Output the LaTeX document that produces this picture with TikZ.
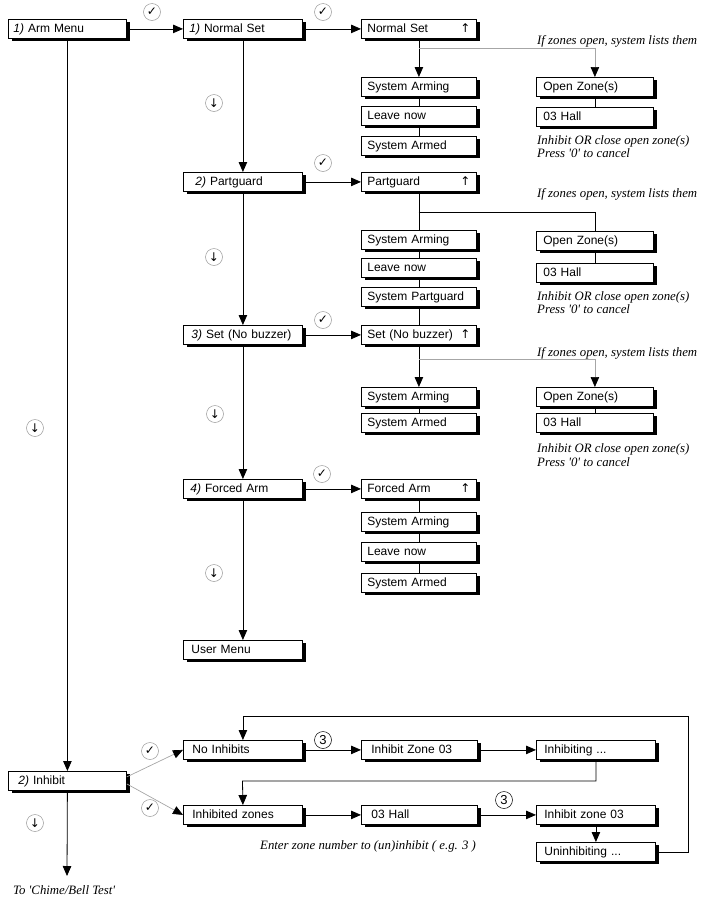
\documentclass[tikz,border=0pt]{standalone}
\usepackage{fontspec}
\setmainfont{Liberation Sans}
\newfontfamily\notefont{Liberation Serif}[Ligatures=TeXOff]
\newfontfamily\symfont{DejaVu Sans}
\usetikzlibrary{arrows.meta,shadows}
\tikzset{
  box/.style={draw=black, line width=0.8pt, fill=white, minimum height=19pt,
    inner ysep=0pt, anchor=north west, align=left,
    font=\fontsize{12}{14}\selectfont, text height=9pt, text depth=2.5pt,
    drop shadow={shadow xshift=3.5pt, shadow yshift=-2.5pt, fill=black, opacity=1}},
  arr/.style={line width=0.8pt, -{Triangle[length=10pt,width=8.5pt]}},
  ln/.style={line width=0.8pt},
  garr/.style={draw=black!35, line width=0.7pt, -{Triangle[length=10pt,width=8.5pt,color=black,fill=black]}},
  chk/.style={circle, draw=black!40, line width=0.5pt, minimum size=17pt, inner sep=0pt, font=\symfont\fontsize{12}{12}\selectfont},
  num/.style={circle, draw=black, line width=0.5pt, minimum size=17pt, inner sep=0pt, font=\fontsize{13}{13}\selectfont},
  note/.style={anchor=base west, inner sep=0pt, font=\notefont\itshape\fontsize{12.8}{14}\selectfont},
}
\newcommand\mybox[6]{%
  \pgfmathsetmacro\mytw{#4-2*#5}%
  \node[box, inner xsep=#5pt, text width=\mytw pt] (#1) at (#2,#3) {#6};}
\newcommand\up{\hfill{\symfont\fontsize{12}{12}\selectfont ↑}}
\begin{document}
\begin{tikzpicture}[x=1pt,y=-1pt]
\useasboundingbox (0,0) rectangle (703,906);
% left column
\mybox{arm}{8}{19}{118}{5}{\textit{1)} Arm Menu}
\mybox{ns}{183}{19}{119}{6}{\textit{1)} Normal Set}
\mybox{pg}{183}{172}{119}{12}{\textit{2)} Partguard}
\mybox{snb}{183}{325}{119}{8}{\textit{3)} Set (No buzzer)}
\mybox{fa}{183}{479}{119}{7}{\textit{4)} Forced Arm}
\mybox{um}{183}{640}{119}{8}{User Menu}
% normal set column
\mybox{nsR}{361}{19}{115}{6}{Normal Set\up}
\mybox{sa1}{361}{77}{115}{6}{System Arming}
\mybox{ln1}{361}{106}{115}{6}{Leave now}
\mybox{sam1}{361}{136}{115}{6}{System Armed}
\mybox{oz1}{536}{77}{117}{7}{Open Zone(s)}
\mybox{ha1}{536}{107}{117}{7}{03 Hall}
% partguard column
\mybox{pgR}{361}{172}{115}{6}{Partguard\up}
\mybox{sa2}{361}{230}{115}{6}{System Arming}
\mybox{ln2}{361}{258}{115}{6}{Leave now}
\mybox{spg}{361}{287}{115}{6}{System Partguard}
\mybox{oz2}{536}{231}{117}{7}{Open Zone(s)}
\mybox{ha2}{536}{263}{117}{7}{03 Hall}
% set no buzzer column
\mybox{snbR}{361}{325}{115}{6}{Set (No buzzer)\up}
\mybox{sa3}{361}{387}{115}{6}{System Arming}
\mybox{sam3}{361}{413}{115}{6}{System Armed}
\mybox{oz3}{536}{387}{117}{7}{Open Zone(s)}
\mybox{ha3}{536}{413}{117}{7}{03 Hall}
% forced arm column
\mybox{faR}{361}{479}{115}{6}{Forced Arm\up}
\mybox{sa4}{361}{512}{115}{6}{System Arming}
\mybox{ln4}{361}{542}{115}{6}{Leave now}
\mybox{sam4}{361}{573}{115}{6}{System Armed}
% inhibit
\mybox{inh}{8}{771}{118}{10}{\textit{2)} Inhibit}
\mybox{noi}{183}{740}{119}{9}{No Inhibits}
\mybox{inz}{183}{805}{119}{9}{Inhibited zones}
\mybox{iz}{361}{740}{116}{10}{Inhibit Zone 03}
\mybox{ing}{536}{740}{119}{8}{Inhibiting ...}
\mybox{ha5}{361}{805}{116}{10}{03 Hall}
\mybox{izb}{536}{805}{119}{8}{Inhibit zone 03}
\mybox{uni}{536}{842}{119}{8}{Uninhibiting ...}
% main connectors
\draw[arr] (arm.east) -- (ns.west);
\draw[arr] (ns.east) -- (nsR.west);
\draw[arr] (pg.east) -- (pgR.west);
\draw[arr] (snb.east) -- (snbR.west);
\draw[arr] (fa.east) -- (faR.west);
\draw[arr] (ns.south) -- (pg.north);
\draw[arr] (pg.south) -- (snb.north);
\draw[arr] (snb.south) -- (fa.north);
\draw[arr] (fa.south) -- (um.north);
\draw[arr] (arm.south) -- (inh.north);
\coordinate (chime) at (67,876);
\draw[arr] (inh.south) -- (chime);
% normal set section
\draw[arr] (nsR.south) -- (sa1.north);
\coordinate (b1) at (418.5,48);
\draw[garr] (b1) -| (oz1.north);
\draw[ln] (sa1.south) -- (ln1.north) (ln1.south) -- (sam1.north) (oz1.south) -- (ha1.north);
% partguard section
\draw[ln] (pgR.south) -- (sa2.north);
\coordinate (b2) at (418.5,212);
\draw[ln] (b2) -| (oz2.north);
\draw[ln] (sa2.south) -- (ln2.north) (ln2.south) -- (spg.north) (spg.south) -- (snbR.north) (oz2.south) -- (ha2.north);
% set no buzzer section
\draw[arr] (snbR.south) -- (sa3.north);
\coordinate (b3) at (418.5,359);
\draw[garr] (b3) -| (oz3.north);
\draw[ln] (sa3.south) -- (sam3.north) (oz3.south) -- (ha3.north);
% forced arm section
\draw[ln] (faR.south) -- (sa4.north) (sa4.south) -- (ln4.north) (ln4.south) -- (sam4.north);
% inhibit section
\draw[garr] ([yshift=4pt]inh.east) -- (noi.west);
\draw[garr] ([yshift=-3pt]inh.east) -- (inz.west);
\draw[arr] (noi.east) -- (iz.west);
\draw[arr] (iz.east) -- (ing.west);
\draw[arr] (inz.east) -- (ha5.west);
\draw[arr] (ha5.east) -- (izb.west);
\draw[arr] (izb.south) -- (uni.north);
\coordinate (l1) at (242.5,781);
\draw[arr] (ing.south) |- (l1) -- (inz.north);
\coordinate (r1) at (688,716);
\draw[arr] (uni.east) -| (r1) -| (noi.north);
% circles
\node[chk] (k1) at (152,12) {✓};
\node[chk] (k2) at (323,12) {✓};
\node[chk] (k3) at (323,163) {✓};
\node[chk] (k4) at (323,320) {✓};
\node[chk] (k5) at (322,474) {✓};
\node[chk] (k6) at (150,751) {✓};
\node[chk] (k7) at (150,808) {✓};
\node[chk] (d1) at (214,103) {↓};
\node[chk] (d2) at (214,257) {↓};
\node[chk] (d3) at (215,414) {↓};
\node[chk] (d4) at (214,573) {↓};
\node[chk] (d5) at (35,428) {↓};
\node[chk] (d6) at (35,823) {↓};
\node[num] (n1) at (323,740) {3};
\node[num] (n2) at (504,800) {3};
% notes
\node[note] (t1) at (537,44) {If zones open, system lists them};
\node[note] (t2) at (537,144) {Inhibit OR close open zone(s)};
\node[note] (t3) at (537,157) {Press '0' to cancel};
\node[note] (t4) at (537,197) {If zones open, system lists them};
\node[note] (t5) at (537,300) {Inhibit OR close open zone(s)};
\node[note] (t6) at (537,313) {Press '0' to cancel};
\node[note] (t7) at (537,356) {If zones open, system lists them};
\node[note] (t8) at (537,452) {Inhibit OR close open zone(s)};
\node[note] (t9) at (537,466) {Press '0' to cancel};
\node[note] (t10) at (260,849) {Enter zone number to (un)inhibit ( e.g. 3 )};
\node[note] (t11) at (13,894) {To 'Chime/Bell Test'};
\end{tikzpicture}
\end{document}
